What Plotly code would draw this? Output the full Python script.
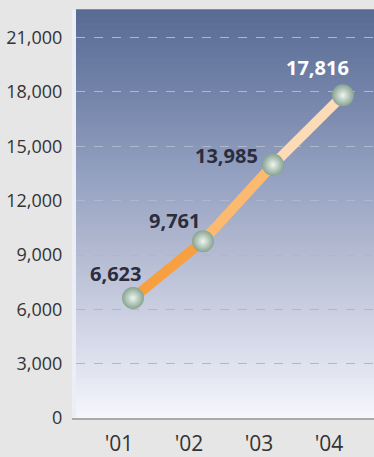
import plotly.graph_objects as go

# Annual figures
years = ["'01", "'02", "'03", "'04"]
values = [6623, 9761, 13985, 17816]
y_ticks = [0, 3000, 6000, 9000, 12000, 15000, 18000, 21000]

x_pos = list(range(len(years)))

# Vertical background gradient for the plotting area (bottom -> top)
grad_stops = [
    (0.00, (246, 247, 252)),
    (0.10, (228, 230, 242)),
    (0.25, (204, 208, 226)),
    (0.45, (172, 180, 205)),
    (0.60, (147, 160, 192)),
    (0.80, (115, 131, 169)),
    (1.00, (88, 107, 147)),
]


def grad_color(t):
    for (t0, c0), (t1, c1) in zip(grad_stops[:-1], grad_stops[1:]):
        if t0 <= t <= t1:
            f = (t - t0) / (t1 - t0)
            r, g, b = (round(a + (b_ - a) * f) for a, b_ in zip(c0, c1))
            return f"rgb({r},{g},{b})"
    return "rgb(88,107,147)"


n_bands = 120
shapes = []
for k in range(n_bands):
    y0 = k / n_bands
    y1 = (k + 1) / n_bands
    shapes.append(dict(
        type="rect", xref="x domain", yref="y domain",
        x0=0, x1=1, y0=y0, y1=y1 + 0.002,
        fillcolor=grad_color((y0 + y1) / 2), line=dict(width=0),
        layer="below",
    ))

# Line segments brighten toward the latest year
seg_colors = ["#f7a040", "#fbba70", "#fddbb6"]

fig = go.Figure()
for i in range(len(values) - 1):
    fig.add_trace(go.Scatter(
        x=[x_pos[i], x_pos[i + 1]], y=[values[i], values[i + 1]],
        mode="lines", line=dict(color=seg_colors[i], width=10),
        hoverinfo="skip", showlegend=False,
    ))

fig.add_trace(go.Scatter(
    x=x_pos, y=values, mode="markers",
    marker=dict(size=22, color="#87a391",
                gradient=dict(type="radial", color="#eef5f0"),
                line=dict(width=0)),
    showlegend=False,
))

# Value labels
label_offsets = [(-17, 25), (-28, 21), (-46, 9), (-25, 28)]
label_colors = ["#2b2d3c", "#2b2d3c", "#2b2d3c", "#ffffff"]
annotations = []
for i, v in enumerate(values):
    dx, dy = label_offsets[i]
    annotations.append(dict(
        x=x_pos[i], y=v, xref="x", yref="y", text=f"{v:,}",
        showarrow=False, xshift=dx, yshift=dy,
        font=dict(family="Open Sans", size=20, color=label_colors[i],
                  weight="bold"),
    ))

fig.update_layout(
    width=374, height=457,
    margin=dict(l=76, r=0, t=10, b=34),
    paper_bgcolor="#e6e6e6",
    plot_bgcolor="#586b93",
    shapes=shapes,
    annotations=annotations,
    showlegend=False,
    font=dict(family="Open Sans", color="#333333"),
)

fig.update_xaxes(
    range=[-0.814, 3.443],
    tickvals=[p - 0.2 for p in x_pos], ticktext=years,
    showgrid=False, zeroline=False,
    showline=True, linecolor="#a9a9a9", linewidth=2,
    ticks="", ticklabelstandoff=6,
    tickfont=dict(size=21, color="#333333"),
)

fig.update_yaxes(
    range=[0, 22527],
    tickvals=y_ticks, tickformat=",",
    showgrid=True, gridcolor="#b0b6cb", griddash="dash", gridwidth=1,
    zeroline=False,
    showline=True, linecolor="#eceef6", linewidth=4,
    ticks="", ticklabelstandoff=6,
    tickfont=dict(size=18, color="#333333"),
)

fig.write_html("out.html")
